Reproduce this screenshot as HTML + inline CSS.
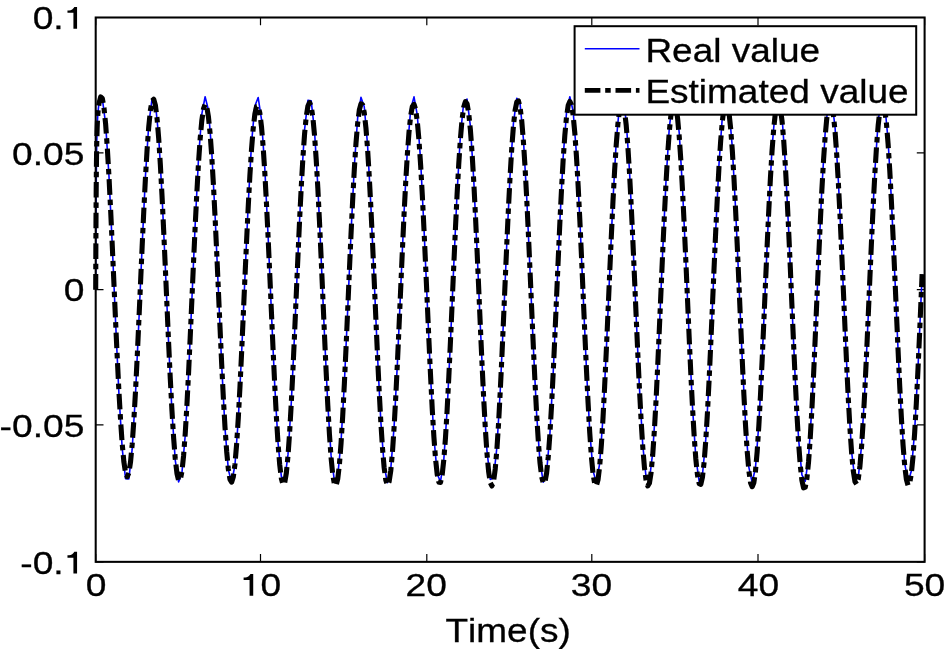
<!DOCTYPE html>
<html><head><meta charset="utf-8"><style>
html,body{margin:0;padding:0;background:#fff;width:944px;height:649px;overflow:hidden}
svg{display:block;will-change:transform;font-family:"Liberation Sans",sans-serif;font-kerning:none}
</style></head><body>
<svg width="944" height="649" viewBox="0 0 944 649"><path d="M95.70,561.85V554.05M95.70,17.50V25.30M260.50,561.85V554.05M260.50,17.50V25.30M426.80,561.85V554.05M426.80,17.50V25.30M591.80,561.85V554.05M591.80,17.50V25.30M758.00,561.85V554.05M758.00,17.50V25.30M924.60,561.85V554.05M924.60,17.50V25.30M95.70,17.50H103.50M924.60,17.50H916.80M95.70,152.90H103.50M924.60,152.90H916.80M95.70,289.60H103.50M924.60,289.60H916.80M95.70,424.80H103.50M924.60,424.80H916.80M95.70,561.80H103.50M924.60,561.80H916.80" stroke="#000" stroke-width="1.2" fill="none"/>
<path d="M95.70,289.68 L95.87,245.83 L96.03,213.30 L96.20,189.05 L96.36,170.87 L96.53,157.13 L96.69,146.63 L96.86,138.52 L97.03,132.16 L97.19,127.10 L97.36,123.00 L97.52,119.61 L97.69,116.76 L97.86,114.33 L98.02,112.21 L98.19,110.34 L98.35,108.68 L98.52,107.18 L98.68,105.82 L98.85,104.59 L99.02,103.47 L102.33,98.57 L105.65,124.08 L108.96,175.74 L112.28,245.38 L115.59,322.02 L118.91,393.55 L122.22,448.68 L125.54,478.71 L128.86,478.89 L132.17,449.20 L135.49,394.33 L138.80,322.93 L142.12,246.28 L145.43,176.48 L148.75,124.56 L152.07,98.70 L155.38,102.99 L158.70,136.76 L162.01,194.67 L165.33,267.57 L168.64,343.97 L171.96,411.80 L175.27,460.34 L178.59,481.94 L181.91,473.19 L185.22,435.46 L188.54,374.72 L191.85,300.55 L195.17,224.66 L198.48,159.04 L201.80,114.04 L205.11,96.77 L208.43,109.96 L211.75,151.52 L215.06,214.89 L218.38,290.07 L221.69,365.18 L225.01,428.38 L228.32,469.67 L231.64,482.55 L234.96,464.98 L238.27,419.73 L241.59,353.95 L244.90,278.02 L248.22,203.93 L251.53,143.38 L254.85,105.92 L258.16,97.48 L261.48,119.38 L264.80,168.16 L268.11,236.13 L271.43,312.56 L274.74,385.37 L278.06,443.07 L281.37,476.55 L284.69,480.54 L288.00,454.38 L291.32,402.23 L294.64,332.30 L297.95,255.65 L301.27,184.36 L304.58,129.71 L307.90,100.31 L311.21,100.80 L314.53,131.12 L317.85,186.46 L321.16,258.11 L324.48,334.73 L327.79,404.25 L331.11,455.67 L334.42,480.89 L337.74,475.92 L341.05,441.54 L344.37,383.19 L347.69,310.08 L351.00,233.74 L354.32,166.24 L357.63,118.22 L360.95,97.27 L364.26,106.70 L367.58,145.02 L370.89,206.17 L374.21,280.51 L377.53,356.29 L380.84,421.56 L384.16,466.01 L387.47,482.61 L390.79,468.76 L394.10,426.63 L397.42,362.88 L400.74,287.57 L404.05,212.60 L407.37,149.79 L410.68,109.07 L414.00,96.86 L417.31,115.09 L420.63,160.89 L423.94,227.02 L427.26,303.04 L430.58,376.95 L433.89,437.08 L437.21,473.94 L440.52,481.71 L443.84,459.16 L447.15,409.86 L450.47,341.57 L453.78,265.10 L457.10,192.50 L460.42,135.25 L463.73,102.38 L467.05,99.07 L470.36,125.86 L473.68,178.51 L476.99,248.71 L480.31,325.38 L483.63,396.41 L486.94,450.59 L490.26,479.37 L493.57,478.19 L496.89,447.25 L500.20,391.44 L503.52,319.56 L506.83,242.96 L510.15,173.73 L513.47,122.82 L516.78,98.24 L520.10,103.89 L523.41,138.87 L526.73,197.65 L530.04,270.97 L533.36,347.24 L536.67,414.42 L539.99,461.91 L543.31,482.20 L546.62,472.10 L549.94,433.20 L553.25,371.64 L556.57,297.13 L559.88,221.46 L563.20,156.55 L566.52,112.66 L569.83,96.71 L573.15,111.23 L576.46,153.93 L579.78,218.05 L583.09,293.48 L586.41,368.32 L589.72,430.73 L593.04,470.88 L596.36,482.42 L599.67,463.52 L602.99,417.19 L606.30,350.72 L609.62,274.61 L612.93,200.88 L616.25,141.17 L619.56,104.91 L622.88,97.81 L626.20,121.01 L629.51,170.84 L632.83,239.42 L636.14,315.94 L639.46,388.32 L642.77,445.12 L646.09,477.38 L649.41,480.00 L652.72,452.58 L656.04,399.44 L659.35,328.97 L662.67,252.29 L665.98,181.52 L669.30,127.82 L672.61,99.68 L675.93,101.53 L679.25,133.09 L682.56,189.37 L685.88,261.48 L689.19,338.05 L692.51,406.98 L695.82,457.39 L699.14,481.32 L702.45,474.99 L705.77,439.41 L709.09,380.19 L712.40,306.68 L715.72,230.48 L719.03,163.63 L722.35,116.68 L725.66,97.04 L728.98,107.81 L732.30,147.30 L735.61,209.26 L738.93,283.92 L742.24,359.49 L745.56,424.04 L748.87,467.37 L752.19,482.65 L755.50,467.46 L758.82,424.20 L762.14,359.71 L765.45,284.16 L768.77,209.48 L772.08,147.46 L775.40,107.89 L778.71,97.03 L782.03,116.57 L785.34,163.45 L788.66,230.26 L791.98,306.44 L795.29,379.98 L798.61,439.26 L801.92,474.93 L805.24,481.35 L808.55,457.50 L811.87,407.16 L815.19,338.28 L818.50,261.71 L821.82,189.57 L825.13,133.23 L828.45,101.58 L831.76,99.64 L835.08,127.69 L838.39,181.32 L841.71,252.06 L845.03,328.73 L848.34,399.24 L851.66,452.45 L854.97,479.96 L858.29,477.43 L861.60,445.26 L864.92,388.52 L868.23,316.18 L871.55,239.65 L874.87,171.02 L878.18,121.13 L881.50,97.84 L884.81,104.84 L888.13,141.02 L891.44,200.67 L894.76,274.37 L898.08,350.49 L901.39,417.01 L904.71,463.42 L908.02,482.40 L911.34,470.96 L914.65,430.89 L917.97,368.53 L921.28,293.72 L922.11,274.44" stroke="#0000ff" stroke-width="1.6" fill="none" stroke-linejoin="round"/>
<path d="M95.70,289.68 L95.87,245.80 L96.03,213.26 L96.20,189.00 L96.36,170.81 L96.53,157.05 L96.69,146.55 L96.86,138.44 L97.03,132.08 L97.19,127.01 L97.36,122.91 L97.52,119.52 L97.69,116.67 L97.86,114.23 L98.02,112.12 L98.19,110.25 L98.35,108.58 L98.52,107.08 L98.68,105.73 L98.85,104.49 L99.02,103.37 L100.67,96.97 L102.33,98.50 L103.99,107.77 L105.65,124.37 L107.30,147.58 L108.96,176.42 L110.62,209.66 L112.28,245.90 L113.94,283.67 L115.59,321.43 L117.25,357.70 L118.91,391.06 L120.57,420.24 L122.22,444.14 L123.88,461.90 L125.54,472.85 L127.20,476.60 L128.86,473.00 L130.51,462.16 L132.17,444.48 L133.83,420.63 L135.49,391.52 L137.15,358.27 L138.80,322.16 L140.46,284.61 L142.12,247.11 L143.78,211.17 L145.43,178.24 L147.09,149.68 L148.75,126.68 L150.41,110.18 L152.07,100.89 L153.72,99.20 L155.38,105.11 L157.04,118.36 L158.70,138.45 L160.35,164.56 L162.01,195.67 L163.67,230.54 L165.33,267.79 L166.99,305.94 L168.64,343.47 L170.30,378.88 L171.96,410.74 L173.62,437.79 L175.27,458.94 L176.93,473.33 L178.59,480.40 L180.25,479.83 L181.91,471.58 L183.56,455.99 L185.22,433.74 L186.88,405.78 L188.54,373.30 L190.19,337.65 L191.85,300.30 L193.51,262.76 L195.17,226.52 L196.83,193.00 L198.48,163.46 L200.14,139.04 L201.80,120.62 L203.46,108.89 L205.11,104.27 L206.77,106.91 L208.43,116.72 L210.09,133.33 L211.75,156.17 L213.40,184.39 L215.06,216.96 L216.72,252.64 L218.38,290.06 L220.03,327.74 L221.69,364.17 L223.35,397.84 L225.01,427.34 L226.67,451.42 L228.32,469.04 L229.98,479.42 L231.64,482.10 L233.30,476.97 L234.96,464.23 L236.61,444.45 L238.27,418.51 L239.93,387.54 L241.59,352.87 L243.24,315.96 L244.90,278.31 L246.56,241.45 L248.22,206.81 L249.88,175.70 L251.53,149.28 L253.19,128.50 L254.85,114.11 L256.51,106.60 L258.16,106.22 L259.82,112.95 L261.48,126.57 L263.14,146.62 L264.80,172.41 L266.45,203.07 L268.11,237.47 L269.77,274.33 L271.43,312.25 L273.08,349.68 L274.74,385.10 L276.40,416.99 L278.06,443.96 L279.72,464.80 L281.37,478.57 L283.03,484.63 L284.69,482.72 L286.35,472.96 L288.00,455.80 L289.66,431.98 L291.32,402.55 L292.98,368.78 L294.64,332.10 L296.29,294.02 L297.95,256.10 L299.61,219.81 L301.27,186.57 L302.92,157.62 L304.58,134.02 L306.24,116.61 L307.90,106.02 L309.56,102.60 L311.21,106.48 L312.87,117.50 L314.53,135.28 L316.19,159.22 L317.85,188.47 L319.50,221.95 L321.16,258.44 L322.82,296.52 L324.48,334.69 L326.13,371.40 L327.79,405.12 L329.45,434.41 L331.11,458.00 L332.77,474.83 L334.42,484.17 L336.08,485.58 L337.74,478.99 L339.40,464.69 L341.05,443.35 L342.71,415.91 L344.37,383.58 L346.03,347.76 L347.69,309.96 L349.34,271.74 L351.00,234.63 L352.66,200.05 L354.32,169.31 L355.97,143.52 L357.63,123.59 L359.29,110.21 L360.95,103.83 L362.61,104.68 L364.26,112.74 L365.92,127.73 L367.58,149.13 L369.24,176.19 L370.89,207.94 L372.55,243.19 L374.21,280.62 L375.87,318.76 L377.53,356.07 L379.18,391.03 L380.84,422.14 L382.50,448.09 L384.16,467.72 L385.81,480.16 L387.47,484.87 L389.13,481.61 L390.79,470.53 L392.45,452.12 L394.10,427.23 L395.76,396.94 L397.42,362.59 L399.08,325.63 L400.74,287.60 L402.39,250.04 L404.05,214.42 L405.71,182.10 L407.37,154.25 L409.02,131.89 L410.68,115.79 L412.34,106.50 L414.00,104.35 L415.66,109.41 L417.31,121.52 L418.97,140.27 L420.63,164.99 L422.29,194.78 L423.94,228.56 L425.60,265.04 L427.26,302.82 L428.92,340.39 L430.58,376.23 L432.23,408.85 L433.89,436.85 L435.55,459.02 L437.21,474.39 L438.86,482.28 L440.52,482.35 L442.18,474.62 L443.84,459.44 L445.50,437.47 L447.15,409.62 L448.81,377.09 L450.47,341.21 L452.13,303.48 L453.78,265.41 L455.44,228.51 L457.10,194.24 L458.76,163.90 L460.42,138.65 L462.07,119.43 L463.73,106.95 L465.39,101.67 L467.05,103.76 L468.71,113.12 L470.36,129.41 L472.02,152.07 L473.68,180.28 L475.34,213.02 L476.99,249.05 L478.65,287.01 L480.31,325.39 L481.97,362.65 L483.63,397.26 L485.28,427.75 L486.94,452.82 L488.60,471.38 L490.26,482.59 L491.91,485.98 L493.57,481.39 L495.23,469.04 L496.89,449.46 L498.55,423.52 L500.20,392.33 L501.86,357.20 L503.52,319.62 L505.18,281.10 L506.83,243.21 L508.49,207.42 L510.15,175.11 L511.81,147.50 L513.47,125.60 L515.12,110.21 L516.78,101.88 L518.44,100.91 L520.10,107.36 L521.75,121.01 L523.41,141.35 L525.07,167.62 L526.73,198.83 L528.39,233.78 L530.04,271.12 L531.70,309.39 L533.36,347.06 L535.02,382.60 L536.67,414.56 L538.33,441.61 L539.99,462.62 L541.65,476.70 L543.31,483.25 L544.96,481.98 L546.62,472.95 L548.28,456.52 L549.94,433.42 L551.60,404.63 L553.25,371.37 L554.91,335.02 L556.57,297.07 L558.23,259.05 L559.88,222.48 L561.54,188.78 L563.20,159.23 L564.86,134.95 L566.52,116.83 L568.17,105.55 L569.83,101.51 L571.49,104.83 L573.15,115.38 L574.80,132.80 L576.46,156.45 L578.12,185.50 L579.78,218.88 L581.44,255.34 L583.09,293.47 L584.75,331.77 L586.41,368.70 L588.07,402.71 L589.72,432.38 L591.38,456.42 L593.04,473.79 L594.70,483.72 L596.36,485.76 L598.01,479.82 L599.67,466.16 L601.33,445.39 L602.99,418.43 L604.64,386.46 L606.30,350.84 L607.96,313.08 L609.62,274.71 L611.28,237.28 L612.93,202.24 L614.59,170.93 L616.25,144.48 L617.91,123.86 L619.56,109.80 L621.22,102.79 L622.88,103.06 L624.54,110.60 L626.20,125.16 L627.85,146.24 L629.51,173.07 L631.17,204.71 L632.83,239.97 L634.49,277.52 L636.14,315.89 L637.80,353.55 L639.46,388.95 L641.12,420.60 L642.77,447.14 L644.43,467.41 L646.09,480.52 L647.75,485.88 L649.41,483.25 L651.06,472.75 L652.72,454.84 L654.38,430.33 L656.04,400.28 L657.69,366.00 L659.35,328.95 L661.01,290.64 L662.67,252.64 L664.33,216.44 L665.98,183.42 L667.64,154.82 L669.30,131.68 L670.96,114.82 L672.61,104.83 L674.27,102.05 L675.93,106.60 L677.59,118.32 L679.25,136.80 L680.90,161.38 L682.56,191.16 L684.22,225.06 L685.88,261.78 L687.53,299.90 L689.19,337.92 L690.85,374.29 L692.51,407.49 L694.17,436.14 L695.82,459.00 L697.48,475.06 L699.14,483.63 L700.80,484.32 L702.45,477.11 L704.11,462.31 L705.77,440.57 L707.43,412.85 L709.09,380.34 L710.74,344.42 L712.40,306.58 L714.06,268.36 L715.72,231.29 L717.38,196.81 L719.03,166.22 L720.69,140.67 L722.35,121.07 L724.01,108.14 L725.66,102.32 L727.32,103.82 L728.98,112.55 L730.64,128.23 L732.30,150.30 L733.95,178.00 L735.61,210.33 L737.27,246.10 L738.93,283.94 L740.58,322.39 L742.24,359.88 L743.90,394.87 L745.56,425.87 L747.22,451.54 L748.87,470.76 L750.53,482.66 L752.19,486.70 L753.85,482.71 L755.50,470.86 L757.16,451.68 L758.82,426.04 L760.48,395.07 L762.14,360.10 L763.79,322.62 L765.45,284.18 L767.11,246.33 L768.77,210.54 L770.42,178.19 L772.08,150.46 L773.74,128.34 L775.40,112.63 L777.06,103.85 L778.71,102.30 L780.37,108.02 L782.03,120.81 L783.69,140.23 L785.34,165.64 L787.00,196.16 L788.66,230.69 L790.32,267.95 L791.98,306.51 L793.63,344.84 L795.29,381.37 L796.95,414.53 L798.61,442.90 L800.27,465.20 L801.92,480.43 L803.58,487.88 L805.24,487.22 L806.90,478.47 L808.55,462.04 L810.21,438.68 L811.87,409.45 L813.53,375.64 L815.19,338.71 L816.84,300.24 L818.50,261.79 L820.16,224.87 L821.82,190.91 L823.47,161.15 L825.13,136.66 L826.79,118.27 L828.45,106.61 L830.11,102.06 L831.76,104.80 L833.42,114.79 L835.08,131.67 L836.74,154.84 L838.39,183.44 L840.05,216.43 L841.71,252.55 L843.37,290.40 L845.03,328.51 L846.68,365.32 L848.34,399.33 L850.00,429.11 L851.66,453.39 L853.31,471.12 L854.97,481.55 L856.63,484.19 L858.29,478.95 L859.95,466.05 L861.60,446.05 L863.26,419.82 L864.92,388.50 L866.58,353.40 L868.23,315.99 L869.89,277.80 L871.55,240.36 L873.21,205.13 L874.87,173.46 L876.52,146.54 L878.18,125.37 L879.84,110.71 L881.50,103.08 L883.16,102.77 L884.81,109.75 L886.47,123.78 L888.13,144.38 L889.79,170.81 L891.44,202.10 L893.10,237.11 L894.76,274.50 L896.42,312.81 L898.08,350.51 L899.73,386.06 L901.39,417.98 L903.05,444.89 L904.71,465.63 L906.36,479.28 L908.02,485.25 L909.68,483.31 L911.34,473.64 L913.00,456.64 L914.65,432.98 L916.31,403.61 L917.97,369.70 L919.63,332.59 L921.28,293.78 L922.11,274.21" stroke="#000" stroke-width="5.1" fill="none" stroke-dasharray="15.6 4.8 5.5 4.8" stroke-linejoin="round"/>
<rect x="95.7" y="17.5" width="828.90" height="544.35" fill="none" stroke="#000" stroke-width="2.05"/>
<text transform="translate(32.69,28.70) scale(1.2039,1)" font-size="30.9" stroke="#000" stroke-width="0.3">0.</text><path d="M77.07,28.70V6.98H74.33C73.42,8.72 71.23,10.45 69.05,10.45H67.47V12.84H73.42V28.70Z" fill="#000"/>
<text transform="translate(12.00,164.70) scale(1.2039,1)" font-size="30.9" stroke="#000" stroke-width="0.3">0.05</text>
<text transform="translate(63.71,300.50) scale(1.2039,1)" font-size="30.9" stroke="#000" stroke-width="0.3">0</text>
<text transform="translate(-0.39,436.80) scale(1.2039,1)" font-size="30.9" stroke="#000" stroke-width="0.3">-0.05</text>
<text transform="translate(20.30,573.50) scale(1.2039,1)" font-size="30.9" stroke="#000" stroke-width="0.3">-0.</text><path d="M77.07,573.50V551.78H74.33C73.42,553.52 71.23,555.25 69.05,555.25H67.47V557.64H73.42V573.50Z" fill="#000"/>
<text transform="translate(85.76,595.80) scale(1.2039,1)" font-size="30.9" stroke="#000" stroke-width="0.3">0</text>
<path d="M253.22,595.80V574.08H250.48C249.57,575.82 247.38,577.55 245.20,577.55H243.62V579.94H249.57V595.80Z" fill="#000"/><text transform="translate(260.55,595.80) scale(1.2039,1)" font-size="30.9" stroke="#000" stroke-width="0.3">0</text>
<text transform="translate(405.56,595.80) scale(1.2039,1)" font-size="30.9" stroke="#000" stroke-width="0.3">20</text>
<text transform="translate(570.81,595.80) scale(1.2039,1)" font-size="30.9" stroke="#000" stroke-width="0.3">30</text>
<text transform="translate(737.71,595.80) scale(1.2039,1)" font-size="30.9" stroke="#000" stroke-width="0.3">40</text>
<text transform="translate(903.91,595.80) scale(1.2039,1)" font-size="30.9" stroke="#000" stroke-width="0.3">50</text>
<text transform="translate(445.50,641.60) scale(1.1420,1)" font-size="32.4" stroke="#000" stroke-width="0.3">Time(s)</text>
<rect x="574.6" y="26.2" width="341.60" height="88.50" fill="#fff" stroke="#000" stroke-width="2"/>
<path d="M584.8,48.8H639.5" stroke="#0000ff" stroke-width="1.5"/>
<path d="M584.8,90.4H639.5" stroke="#000" stroke-width="4.8" stroke-dasharray="15.6 4.8 5.5 4.8"/>
<text transform="translate(645.40,62.10) scale(1.1420,1)" font-size="32.4" stroke="#000" stroke-width="0.3">Real value</text>
<text transform="translate(645.40,102.70) scale(1.1420,1)" font-size="32.4" stroke="#000" stroke-width="0.3">Estimated value</text></svg>
</body></html>
